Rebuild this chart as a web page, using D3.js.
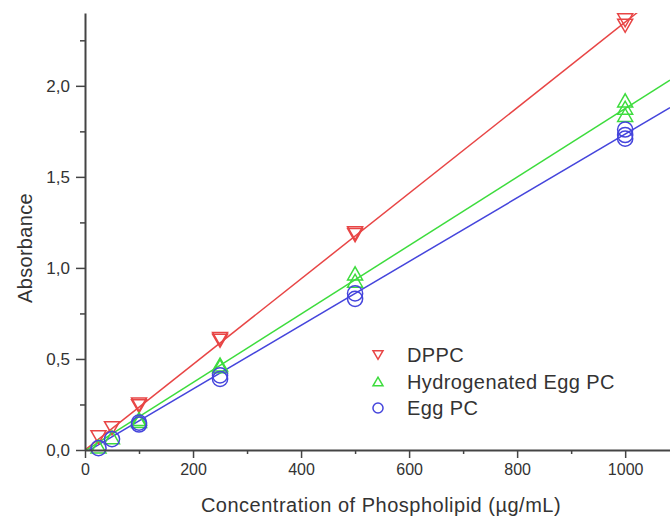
<!DOCTYPE html>
<html>
<head>
<meta charset="utf-8">
<script src="https://cdn.jsdelivr.net/npm/d3@7"></script>
<style>
  body { margin: 0; background: #fff; }
  text { font-family: "Liberation Sans", Arial, sans-serif; fill: #333; }
</style>
</head>
<body>
<script>
// measured points, concentration (ug/mL) vs absorbance
const dppc = [[25,0.07],[50,0.12],[100,0.24],[100,0.25],[250,0.60],[250,0.61],[500,1.18],[500,1.19],[1000,2.33],[1000,2.36]];
const hydroEgg = [[25,0.02],[50,0.07],[100,0.16],[100,0.17],[250,0.46],[250,0.47],[500,0.93],[500,0.97],[1000,1.84],[1000,1.88],[1000,1.92]];
const eggPC = [[25,0.01],[50,0.06],[100,0.14],[100,0.15],[250,0.39],[250,0.41],[500,0.83],[500,0.86],[1000,1.71],[1000,1.73],[1000,1.76]];

// linear fits [slope, intercept]
const dppcFit = [0.00235, 0];
const hydroFit = [0.00188, -0.005];
const eggFit = [0.00175, -0.015];

const seriesNames = ['DPPC', 'Hydrogenated Egg PC', 'Egg PC'];
const xTicks = [0, 200, 400, 600, 800, 1000];
const yTicks = [0, 0.5, 1.0, 1.5, 2.0];

const series = [
  {name: seriesNames[0], pts: dppc, fit: dppcFit, color: '#e84545', sym: 'down'},
  {name: seriesNames[1], pts: hydroEgg, fit: hydroFit, color: '#3ddc3d', sym: 'up'},
  {name: seriesNames[2], pts: eggPC, fit: eggFit, color: '#4545dc', sym: 'circle'},
];

const W = 670, H = 516;
const x = d3.scaleLinear().domain([0, 1083]).range([85, 670]);
const y = d3.scaleLinear().domain([0, 2.4]).range([450, 13]);

const svg = d3.select('body').append('svg')
  .attr('width', W).attr('height', H);

svg.append('clipPath').attr('id', 'plot')
  .append('rect').attr('x', 85).attr('y', 13).attr('width', 585).attr('height', 437);

// fit lines
const line = d3.line().x(d => x(d[0])).y(d => y(d[1]));
series.forEach(s => {
  const xs = [0, 1083];
  svg.append('path')
    .datum(xs.map(v => [v, s.fit[0] * v + s.fit[1]]))
    .attr('clip-path', 'url(#plot)')
    .attr('fill', 'none')
    .attr('stroke', s.color)
    .attr('stroke-width', 1.5)
    .attr('d', line);
});

function symbolPath(sym, size) {
  if (sym === 'circle') return d3.symbol(d3.symbolCircle, size * size * 0.8)();
  const h = size * 0.87, w = size / 2;
  if (sym === 'down') return `M${-w},${-h / 2}L${w},${-h / 2}L0,${h / 2}Z`;
  return `M${-w},${h / 2}L${w},${h / 2}L0,${-h / 2}Z`;
}

// markers
series.forEach(s => {
  svg.append('g').selectAll('path')
    .data(s.pts)
    .enter()
    .append('path')
    .attr('transform', d => `translate(${x(d[0])},${y(d[1])})`)
    .attr('d', symbolPath(s.sym, 15))
    .attr('fill', 'none')
    .attr('stroke', s.color)
    .attr('stroke-width', 1.5);
});

const fmt = v => d3.format('.1f')(v).replace('.', ',');

// x axis
const gx = svg.append('g').attr('transform', 'translate(0,450)');
gx.call(d3.axisBottom(x).tickValues(d3.range(100, 1083, 200)).tickSize(4).tickFormat(''));
gx.call(g => g.select('.domain').remove());
const gx2 = svg.append('g').attr('transform', 'translate(0,450)');
gx2.call(d3.axisBottom(x).tickValues(xTicks).tickSize(8).tickSizeOuter(0).tickPadding(6).tickFormat(d3.format('d')));
gx2.select('.domain').attr('stroke', '#444').attr('stroke-width', 2);
gx.selectAll('line').attr('stroke', '#444').attr('stroke-width', 1.5);
gx2.selectAll('line').attr('stroke', '#444').attr('stroke-width', 1.5);
gx2.selectAll('text').attr('font-size', 16).style('fill', '#333');

// y axis
const gy = svg.append('g').attr('transform', 'translate(85,0)');
gy.call(d3.axisLeft(y).tickValues(d3.range(0.25, 2.4, 0.5)).tickSize(5).tickFormat(''));
gy.call(g => g.select('.domain').remove());
const gy2 = svg.append('g').attr('transform', 'translate(85,0)');
gy2.call(d3.axisLeft(y).tickValues(yTicks).tickSize(9).tickSizeOuter(0).tickPadding(6).tickFormat(fmt));
gy2.select('.domain').attr('stroke', '#444').attr('stroke-width', 2);
gy.selectAll('line').attr('stroke', '#444').attr('stroke-width', 1.5);
gy2.selectAll('line').attr('stroke', '#444').attr('stroke-width', 1.5);
gy2.selectAll('text').attr('font-size', 17).style('fill', '#333');

// titles
svg.append('text')
  .attr('x', 381).attr('y', 512)
  .attr('text-anchor', 'middle')
  .attr('font-size', 20)
  .attr('letter-spacing', 0.5)
  .text('Concentration of Phospholipid (µg/mL)');
svg.append('text')
  .attr('transform', 'translate(32,248) rotate(-90)')
  .attr('text-anchor', 'middle')
  .attr('font-size', 20)
  .attr('letter-spacing', 0.3)
  .text('Absorbance');

// legend
const leg = svg.append('g').attr('transform', 'translate(378,355)');
series.forEach((s, i) => {
  const row = leg.append('g').attr('transform', `translate(0,${i * 26.5})`);
  row.append('path')
    .attr('d', symbolPath(s.sym, 10))
    .attr('fill', 'none')
    .attr('stroke', s.color)
    .attr('stroke-width', 1.5);
  row.append('text')
    .attr('x', 29).attr('y', 7)
    .attr('font-size', 20)
    .attr('letter-spacing', 0.4)
    .text(s.name);
});
</script>
</body>
</html>
